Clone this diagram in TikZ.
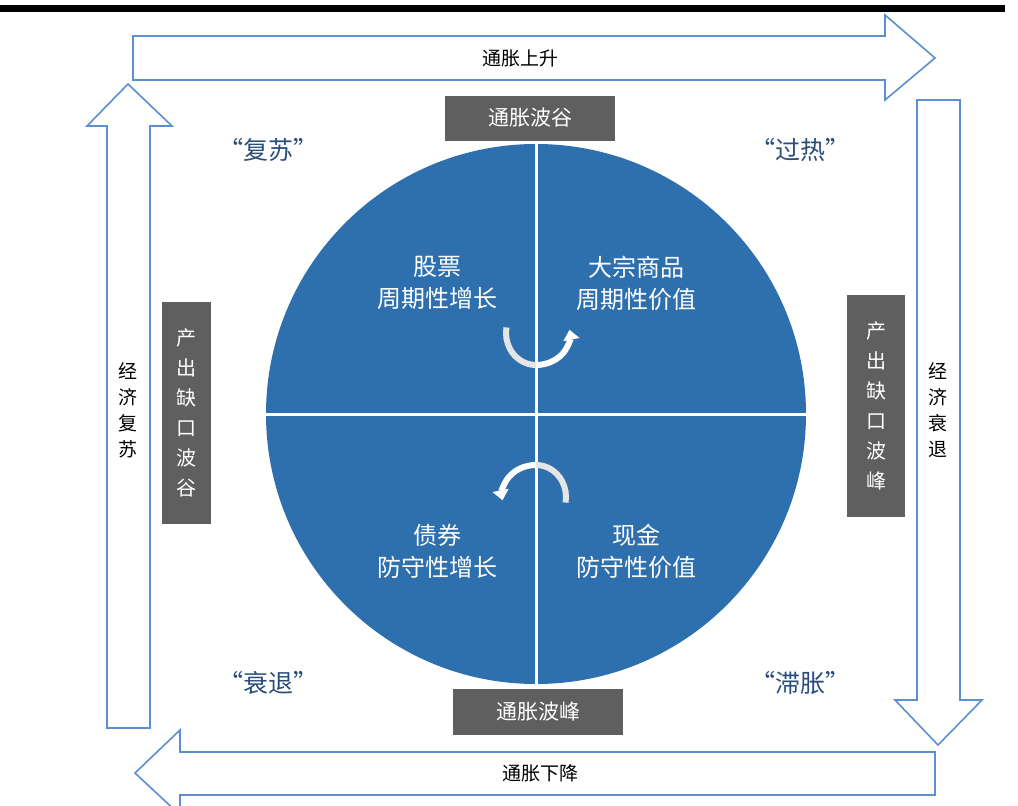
\documentclass[tikz,border=0pt]{standalone}
\usepackage{fontspec}
\newfontfamily\cjk{Noto Sans CJK SC}
\usetikzlibrary{arrows.meta}
\definecolor{cblue}{HTML}{2E6FAE}
\definecolor{qblue}{HTML}{2A4E7A}
\definecolor{lblue}{HTML}{5B8FCF}
\definecolor{gbox}{HTML}{5F5F5F}
\tikzset{
 bigarrow/.style={draw=lblue,line width=1.6pt,fill=white},
 graybox/.style={fill=gbox,text=white,font=\cjk\fontsize{21}{24}\selectfont,inner sep=0pt},
 quad/.style={text=white,font=\cjk\fontsize{24}{32}\selectfont,align=center},
 season/.style={text=qblue,font=\cjk\fontsize{25}{30}\selectfont},
 side/.style={font=\cjk\fontsize{19}{26}\selectfont,align=center,text=black},
 lab/.style={font=\cjk\fontsize{19}{24}\selectfont,text=black}
}
\begin{document}
\begin{tikzpicture}[x=1pt,y=-1pt]
\useasboundingbox (0,0) rectangle (1018,806);
\fill (0,5) rectangle (1005,12);
% top arrow
\draw[bigarrow] (133,36) -- (885,36) -- (885,15) -- (935,58) -- (885,100) -- (885,80) -- (133,80) -- cycle;
\node[lab] (t1) at (520,58) {通胀上升};
% left arrow (up)
\draw[bigarrow] (107,728) -- (107,126) -- (87,126) -- (128,84) -- (172,126) -- (150,126) -- (150,728) -- cycle;
\node[side] (l1) at (128,410) {经\\济\\复\\苏};
% right arrow (down)
\draw[bigarrow] (917,100) -- (960,100) -- (960,700) -- (982,700) -- (938,745) -- (895,700) -- (917,700) -- cycle;
\node[side] (r1) at (938,410) {经\\济\\衰\\退};
% bottom arrow (left)
\draw[bigarrow] (935,752) -- (935,795) -- (180,795) -- (180,815) -- (135,773) -- (180,730) -- (180,752) -- cycle;
\node[lab] (b1) at (540,773) {通胀下降};
% circle
\fill[cblue] (536,414) circle (270);
\node[circle,minimum size=540pt,inner sep=0pt] (c) at (536,414) {};
\draw[white,line width=3pt] (c.north) -- (c.south);
\draw[white,line width=3pt] (c.west) -- (c.east);
% center cycle arrows
\draw[white,line width=6pt,-{Triangle[width=16pt,length=10pt]}] (536,365) arc[start angle=90,end angle=-10,x radius=34,y radius=30];
\draw[white!80!gray,line width=6pt] (536,365) arc[start angle=90,end angle=190,x radius=30,y radius=32];
\draw[white,line width=6pt,-{Triangle[width=16pt,length=10pt]}] (536,465) arc[start angle=270,end angle=170,x radius=34,y radius=30];
\draw[white!80!gray,line width=6pt] (536,465) arc[start angle=270,end angle=370,x radius=30,y radius=32];
\node[quad] (q1) at (437,283) {股票\\周期性增长};
\node[quad] (q2) at (636,283) {大宗商品\\周期性价值};
\node[quad] (q3) at (437,551) {债券\\防守性增长};
\node[quad] (q4) at (636,551) {现金\\防守性价值};
% gray boxes
\node[graybox,minimum width=170pt,minimum height=45pt] (g1) at (530,118) {通胀波谷};
\node[graybox,minimum width=170pt,minimum height=46pt] (g2) at (538,712) {通胀波峰};
\node[graybox,minimum width=49pt,minimum height=222pt,align=center,font=\cjk\fontsize{20}{30}\selectfont] (g3) at (186,413) {产\\出\\缺\\口\\波\\谷};
\node[graybox,minimum width=58pt,minimum height=222pt,align=center,font=\cjk\fontsize{20}{30}\selectfont] (g4) at (876,406) {产\\出\\缺\\口\\波\\峰};
% seasons
\node[season] (s1) at (268,150) {“复苏”};
\node[season] (s2) at (800,150) {“过热”};
\node[season] (s3) at (268,683) {“衰退”};
\node[season] (s4) at (800,683) {“滞胀”};
\end{tikzpicture}
\end{document}
